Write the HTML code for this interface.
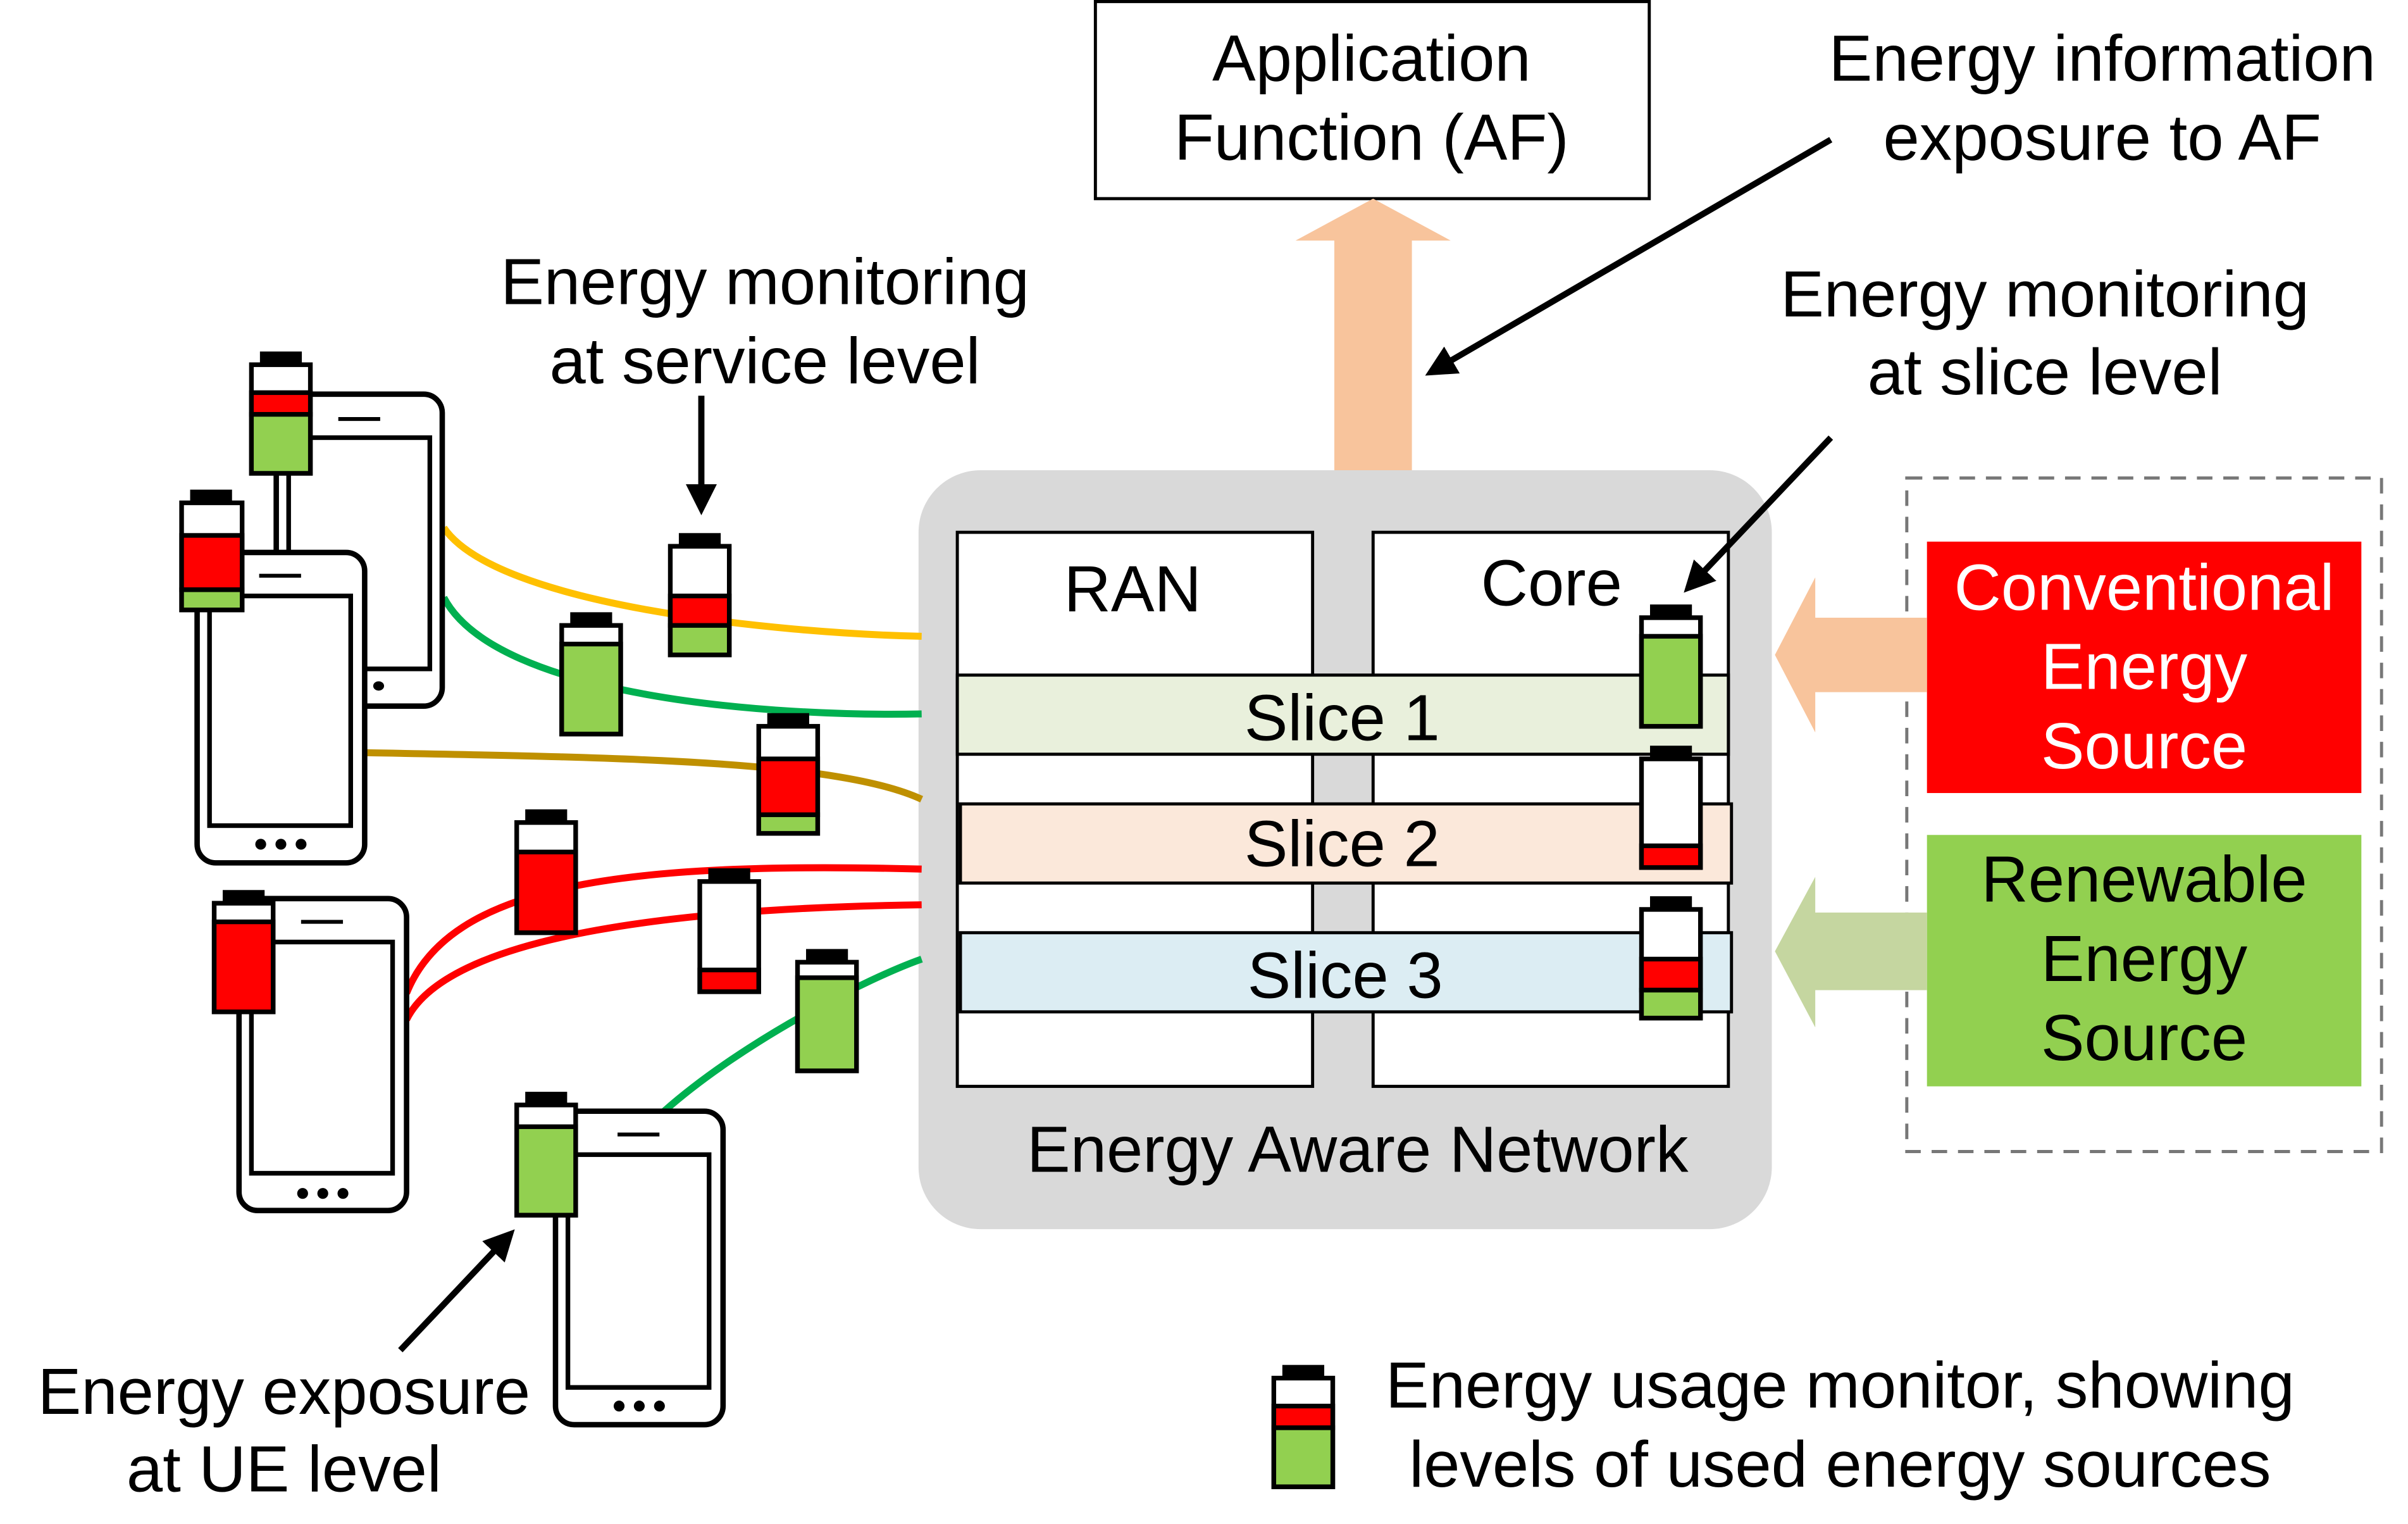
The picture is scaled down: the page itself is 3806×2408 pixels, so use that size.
<!DOCTYPE html>
<html><head><meta charset="utf-8"><style>
html,body{margin:0;padding:0;background:#fff;}
svg{display:block;}
text{font-family:"Liberation Sans",Arial,sans-serif;}
</style></head><body>
<svg width="3806" height="2408" viewBox="0 0 1552 982" xmlns="http://www.w3.org/2000/svg">
<defs>
<marker id="ah" viewBox="0 0 10 10" refX="8" refY="5" markerWidth="5" markerHeight="5" orient="auto"><path d="M0,0 L10,5 L0,10 z" fill="#000"/></marker>
</defs>
<rect width="1552" height="982" fill="#fff"/>

<!-- AF -->
<rect x="706" y="1" width="357" height="127" fill="#fff" stroke="#000" stroke-width="2"/>
<text x="884" y="52" font-size="42" text-anchor="middle">Application</text>
<text x="884" y="103" font-size="42" text-anchor="middle">Function (AF)</text>
<path d="M860,308 L860,155 L835,155 L885,128 L935,155 L910,155 L910,308 z" fill="#f8c49c"/>

<text x="1355" y="52" font-size="42" text-anchor="middle">Energy information</text>
<text x="1355" y="103" font-size="42" text-anchor="middle">exposure to AF</text>

<text x="493" y="196" font-size="42" text-anchor="middle">Energy monitoring</text>
<text x="493" y="247" font-size="42" text-anchor="middle">at service level</text>

<text x="1318" y="204" font-size="42" text-anchor="middle">Energy monitoring</text>
<text x="1318" y="254" font-size="42" text-anchor="middle">at slice level</text>

<!-- network -->
<rect x="592" y="303" width="550" height="489" rx="40" fill="#d9d9d9"/>
<rect x="617" y="343" width="229" height="357" fill="#fff" stroke="#000" stroke-width="2"/>
<rect x="885" y="343" width="229" height="357" fill="#fff" stroke="#000" stroke-width="2"/>
<text x="730" y="394" font-size="42" text-anchor="middle">RAN</text>
<text x="1000" y="390" font-size="42" text-anchor="middle">Core</text>
<rect x="617" y="435" width="497" height="51" fill="#e9f0dc" stroke="#000" stroke-width="2"/>
<text x="865" y="477" font-size="42" text-anchor="middle">Slice 1</text>
<rect x="619" y="518" width="497" height="51" fill="#fbe8da" stroke="#000" stroke-width="2"/>
<text x="865" y="558" font-size="42" text-anchor="middle">Slice 2</text>
<rect x="619" y="601" width="497" height="51" fill="#dcedf3" stroke="#000" stroke-width="2"/>
<text x="867" y="643" font-size="42" text-anchor="middle">Slice 3</text>
<text x="875" y="755" font-size="42" text-anchor="middle">Energy Aware Network</text>

<!-- sources -->
<rect x="1229" y="308" width="306" height="434" fill="none" stroke="#777" stroke-width="2" stroke-dasharray="10,7"/>
<rect x="1242" y="349" width="280" height="162" fill="#ff0000"/>
<text x="1382" y="393" font-size="42" text-anchor="middle" fill="#fff">Conventional</text>
<text x="1382" y="444" font-size="42" text-anchor="middle" fill="#fff">Energy</text>
<text x="1382" y="495" font-size="42" text-anchor="middle" fill="#fff">Source</text>
<rect x="1242" y="538" width="280" height="162" fill="#92d050"/>
<text x="1382" y="581" font-size="42" text-anchor="middle">Renewable</text>
<text x="1382" y="632" font-size="42" text-anchor="middle">Energy</text>
<text x="1382" y="683" font-size="42" text-anchor="middle">Source</text>
<path d="M1242,398 L1170,398 L1170,372 L1144,422 L1170,472 L1170,446 L1242,446 z" fill="#f8c49c"/>
<path d="M1242,588 L1170,588 L1170,565 L1144,613 L1170,662 L1170,638 L1242,638 z" fill="#c5d6a0"/>

<!-- curves -->
<g fill="none" stroke-width="4.5">
<path d="M286,340 C320,390 500,408 594,410" stroke="#ffc000"/>
<path d="M286,385 C320,450 500,462 594,460" stroke="#00b050"/>
<path d="M235,485 C400,488 540,490 594,515" stroke="#bf9000"/>
<path d="M262,640 C290,570 400,555 594,560" stroke="#ff0000"/>
<path d="M262,657 C290,600 450,585 594,583" stroke="#ff0000"/>
<path d="M428,716 C480,670 560,630 594,618" stroke="#00b050"/>
</g>

<!-- phones -->
<g fill="#fff" stroke="#000" stroke-width="3.5">
<g transform="translate(178,254)">
<rect x="0" y="0" width="107" height="201" rx="12"/>
<rect x="8" y="28" width="91" height="149" stroke-width="3"/>
<line x1="40" y1="16" x2="67" y2="16" stroke-width="2.5"/>
<ellipse cx="66" cy="188" rx="3.5" ry="3" fill="#000" stroke="none"/>
</g>
<g transform="translate(127,356)">
<rect x="0" y="0" width="108" height="200" rx="12"/>
<rect x="8" y="28" width="91" height="148" stroke-width="3"/>
<line x1="40" y1="15" x2="67" y2="15" stroke-width="2.5"/>
<circle cx="41" cy="188" r="3.5" fill="#000" stroke="none"/><circle cx="54" cy="188" r="3.5" fill="#000" stroke="none"/><circle cx="67" cy="188" r="3.5" fill="#000" stroke="none"/>
</g>
<g transform="translate(154,579)">
<rect x="0" y="0" width="108" height="201" rx="12"/>
<rect x="8" y="28" width="91" height="149" stroke-width="3"/>
<line x1="40" y1="15" x2="67" y2="15" stroke-width="2.5"/>
<circle cx="41" cy="190" r="3.5" fill="#000" stroke="none"/><circle cx="54" cy="190" r="3.5" fill="#000" stroke="none"/><circle cx="67" cy="190" r="3.5" fill="#000" stroke="none"/>
</g>
<g transform="translate(358,716)">
<rect x="0" y="0" width="108" height="202" rx="12"/>
<rect x="8" y="28" width="91" height="150" stroke-width="3"/>
<line x1="40" y1="15" x2="67" y2="15" stroke-width="2.5"/>
<circle cx="41" cy="190" r="3.5" fill="#000" stroke="none"/><circle cx="54" cy="190" r="3.5" fill="#000" stroke="none"/><circle cx="67" cy="190" r="3.5" fill="#000" stroke="none"/>
</g>
</g>

<!-- batteries -->
<g stroke="#000" stroke-width="3">
<rect x="169" y="228" width="24" height="7" fill="#000"/>
<rect x="162" y="235" width="38" height="70" fill="#fff"/>
<rect x="162" y="253" width="38" height="14" fill="#f00"/>
<rect x="162" y="267" width="38" height="38" fill="#92d050"/>
<rect x="124" y="317" width="24" height="7" fill="#000"/>
<rect x="117" y="324" width="39" height="69" fill="#fff"/>
<rect x="117" y="345" width="39" height="35" fill="#f00"/>
<rect x="117" y="380" width="39" height="13" fill="#92d050"/>
<rect x="439" y="345" width="24" height="7" fill="#000"/>
<rect x="432" y="352" width="38" height="70" fill="#fff"/>
<rect x="432" y="384" width="38" height="19" fill="#f00"/>
<rect x="432" y="403" width="38" height="19" fill="#92d050"/>
<rect x="369" y="396" width="24" height="7" fill="#000"/>
<rect x="362" y="403" width="38" height="70" fill="#fff"/>
<rect x="362" y="415" width="38" height="58" fill="#92d050"/>
<rect x="496" y="461" width="24" height="7" fill="#000"/>
<rect x="489" y="468" width="38" height="69" fill="#fff"/>
<rect x="489" y="489" width="38" height="36" fill="#f00"/>
<rect x="489" y="525" width="38" height="12" fill="#92d050"/>
<rect x="340" y="523" width="24" height="7" fill="#000"/>
<rect x="333" y="530" width="38" height="71" fill="#fff"/>
<rect x="333" y="549" width="38" height="52" fill="#f00"/>
<rect x="458" y="561" width="24" height="7" fill="#000"/>
<rect x="451" y="568" width="38" height="71" fill="#fff"/>
<rect x="451" y="625" width="38" height="14" fill="#f00"/>
<rect x="521" y="613" width="24" height="7" fill="#000"/>
<rect x="514" y="620" width="38" height="70" fill="#fff"/>
<rect x="514" y="630" width="38" height="60" fill="#92d050"/>
<rect x="145" y="575" width="24" height="7" fill="#000"/>
<rect x="138" y="582" width="38" height="70" fill="#fff"/>
<rect x="138" y="594" width="38" height="58" fill="#f00"/>
<rect x="340" y="705" width="24" height="7" fill="#000"/>
<rect x="333" y="712" width="38" height="71" fill="#fff"/>
<rect x="333" y="726" width="38" height="57" fill="#92d050"/>
<rect x="1065" y="391" width="24" height="7" fill="#000"/>
<rect x="1058" y="398" width="38" height="70" fill="#fff"/>
<rect x="1058" y="410" width="38" height="58" fill="#92d050"/>
<rect x="1065" y="482" width="24" height="7" fill="#000"/>
<rect x="1058" y="489" width="38" height="70" fill="#fff"/>
<rect x="1058" y="545" width="38" height="14" fill="#f00"/>
<rect x="1065" y="579" width="24" height="7" fill="#000"/>
<rect x="1058" y="586" width="38" height="70" fill="#fff"/>
<rect x="1058" y="618" width="38" height="20" fill="#f00"/>
<rect x="1058" y="638" width="38" height="18" fill="#92d050"/>
<rect x="828" y="881" width="24" height="7" fill="#000"/>
<rect x="821" y="888" width="38" height="70" fill="#fff"/>
<rect x="821" y="906" width="38" height="14" fill="#f00"/>
<rect x="821" y="920" width="38" height="38" fill="#92d050"/>
</g>

<text x="1186" y="907" font-size="42" text-anchor="middle">Energy usage monitor, showing</text>
<text x="1186" y="958" font-size="42" text-anchor="middle">levels of used energy sources</text>

<text x="183" y="911" font-size="42" text-anchor="middle">Energy exposure</text>
<text x="183" y="961" font-size="42" text-anchor="middle">at UE level</text>

<!-- arrows on top -->
<line x1="1180" y1="90" x2="922" y2="240" stroke="#000" stroke-width="4" marker-end="url(#ah)"/>
<line x1="452" y1="255" x2="452" y2="328" stroke="#000" stroke-width="4" marker-end="url(#ah)"/>
<line x1="1180" y1="282" x2="1088" y2="379" stroke="#000" stroke-width="4" marker-end="url(#ah)"/>
<line x1="258" y1="870" x2="329" y2="795" stroke="#000" stroke-width="4" marker-end="url(#ah)"/>
</svg>
</body></html>
